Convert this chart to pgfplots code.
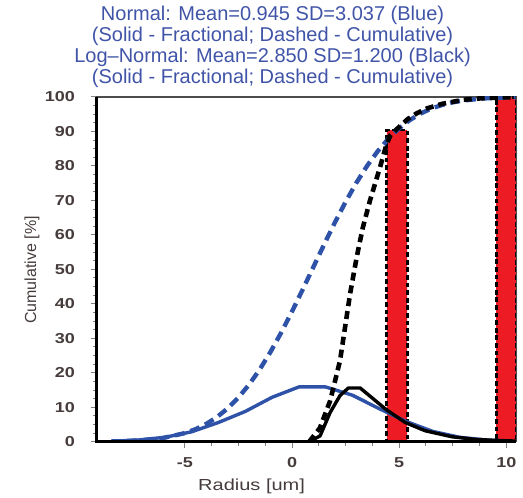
\documentclass[border=0pt]{standalone}
\usepackage{fontspec}
\setmainfont{Liberation Sans}
\newfontfamily\widefont{Liberation Sans}[FakeStretch=1.25]
\usepackage{pgfplots}
\pgfplotsset{compat=1.18}
\definecolor{ttlblue}{RGB}{64,84,168}
\definecolor{curveblue}{RGB}{46,82,168}
\definecolor{barred}{RGB}{237,28,36}
\definecolor{lblgray}{RGB}{70,60,60}

\begin{document}
\begin{tikzpicture}
\begin{axis}[
  scale only axis,
  width=209.5pt, height=172.4pt,
  xmin=-9.1, xmax=10.45, ymin=0, ymax=100,
  xtick={-5,0,5,10}, xticklabels={{-5},0,5,10},
  ytick={0,10,...,100}, yticklabels={0,10,20,30,40,50,60,70,80,90,100},
  minor x tick num=3, minor y tick num=3,
  tick align=outside, xtick pos=left, ytick pos=left,
  major tick length=3pt, minor tick length=2pt,
  tick style={gray, line width=0.5pt},
  axis line style={black!70, line width=0.6pt},
  ticklabel style={font=\widefont\bfseries\fontsize{7.2}{8}\selectfont, text=lblgray},
  yticklabel style={xshift=-4.5pt},
  xticklabel style={yshift=-1.5pt},
  clip mode=individual,
]
% red bars (dashed outline)
\addplot[ybar, bar width=0.95, fill=barred, draw=black, line width=1.4pt,
  dash pattern=on 2.4pt off 1.4pt] coordinates {(4.9,90.4) (10.0,99.9)};

% normal, fractional
\addplot[curveblue, line width=1.7pt, line join=round] coordinates {
  (-8.43,0.15) (-7.18,0.5) (-5.93,1.3) (-4.68,2.9) (-3.43,5.6) (-2.18,8.8)
  (-0.93,12.9) (0.32,15.9) (1.57,15.9) (2.82,13.5) (4.07,9.6) (5.32,5.9)
  (6.57,3.0) (7.82,1.3) (9.07,0.5) (10.32,0.15)
};
% normal, cumulative
\addplot[curveblue, line width=2.2pt, dash pattern=on 5pt off 3pt] coordinates {
  (-8.43,0.1) (-8,0.16) (-7,0.44) (-6,1.11) (-5,2.51) (-4.5,3.65) (-4,5.17)
  (-3.5,7.17) (-3,9.70) (-2.5,12.83) (-2,16.61) (-1.5,21.04) (-1,26.10)
  (-0.5,31.71) (0,37.78) (0.5,44.18) (1,50.72) (1.5,57.25) (2,63.59)
  (2.5,69.57) (3,75.07) (3.5,79.99) (4,84.28) (4.5,87.91) (5,90.91)
  (5.5,93.32) (6,95.20) (6.5,96.63) (7,97.69) (7.5,98.46) (8,98.99)
  (9,99.60) (10,99.86) (10.45,99.92)
};
% log-normal, cumulative
\addplot[black, line width=2.3pt, dash pattern=on 4pt off 2.5pt] coordinates {
  (0.8,0) (1.3,4) (1.78,11.9) (2.24,23.5) (2.71,42.9) (3.02,53.6) (3.3,62)
  (3.64,70) (4.11,79.7) (4.42,86.5) (4.6,89.0) (5.05,91.6) (5.4,93.6)
  (5.83,95.3) (6.3,96.7) (7,98.0) (8,99.2) (9,99.7) (10,99.9) (10.45,100)
};
% log-normal, fractional
\addplot[black, line width=1.7pt, line join=round] coordinates {
  (0.8,0) (1.31,1.7) (1.78,8.5) (2.24,13.4) (2.63,15.6) (3.18,15.6)
  (4.4,9.3) (5.28,5.6) (6.21,3.2) (7.46,1.45) (8.55,0.7) (9.5,0.4) (10.45,0.2)
};

\draw[black, line width=1.5pt] (rel axis cs:0,1) -- (rel axis cs:0,0) -- (rel axis cs:1,0);

\node[anchor=south, inner sep=0pt, align=center, text=ttlblue,
  font=\fontsize{10}{10.55}\selectfont, yshift=4.4pt] at (rel axis cs:0.419,1)
  {Normal: Mean=0.945 SD=3.037 (Blue)\\
   (Solid - Fractional; Dashed - Cumulative)\\
   Log--Normal: Mean=2.850 SD=1.200 (Black)\\
   (Solid - Fractional; Dashed - Cumulative)};
\node[anchor=base, inner sep=0pt, text=lblgray,
  font=\widefont\fontsize{8}{9}\selectfont] at ([yshift=-24.5pt]rel axis cs:0.369,0)
  {Radius [um]};
\node[anchor=center, rotate=90, inner sep=0pt, text=lblgray,
  font=\fontsize{8}{9}\selectfont] at ([xshift=-32.5pt]rel axis cs:0,0.498)
  {Cumulative [\%]};

\coordinate (sw) at (rel axis cs:0,0);
\coordinate (ne) at (rel axis cs:1,1);
\end{axis}
\path ([shift={(-48.5pt,-27.65pt)}]sw) rectangle ([shift={(3.5pt,48.5pt)}]ne);
\end{tikzpicture}
\end{document}
